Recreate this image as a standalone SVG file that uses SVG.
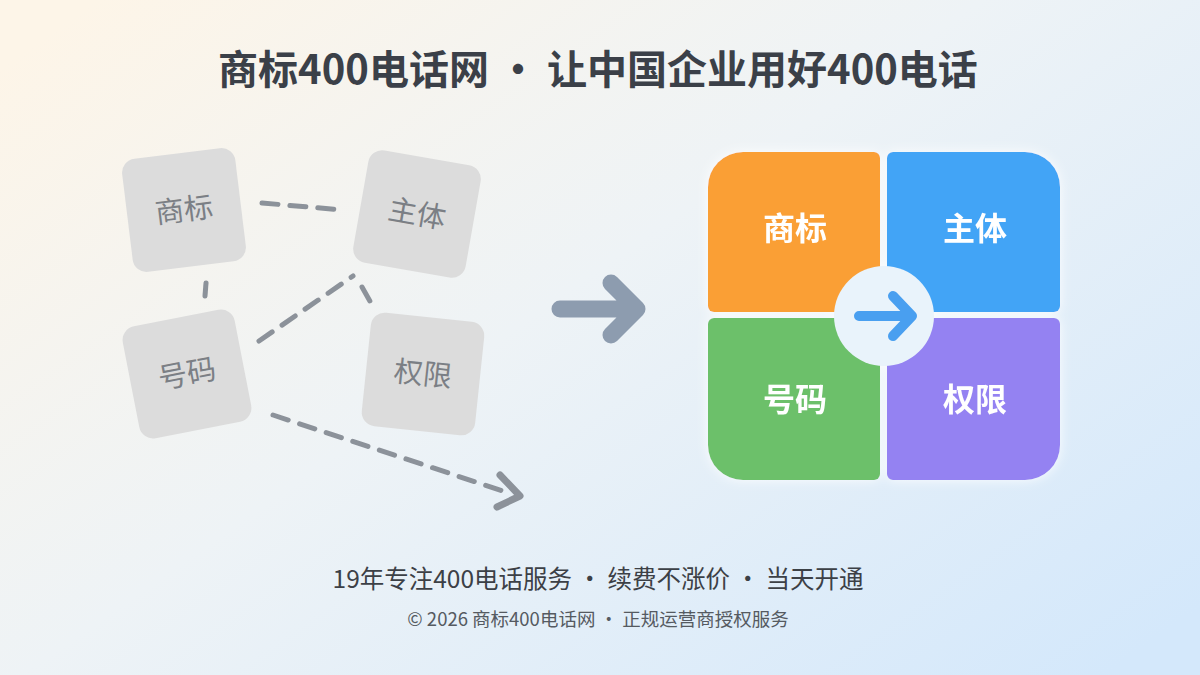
<svg xmlns="http://www.w3.org/2000/svg" width="1200" height="675" viewBox="0 0 1200 675">
<defs>
<linearGradient id="bg" x1="0" y1="0.1" x2="1" y2="0.9">
<stop offset="0" stop-color="#fdf5e8"/>
<stop offset="0.45" stop-color="#eef3f6"/>
<stop offset="1" stop-color="#d4e8fb"/>
</linearGradient>
<filter id="glow" x="-20%" y="-20%" width="140%" height="140%">
<feGaussianBlur in="SourceAlpha" stdDeviation="8"/>
<feFlood flood-color="#ffffff" flood-opacity="0.9"/>
<feComposite operator="in" in2="SourceAlpha"/>
<feGaussianBlur stdDeviation="6"/>
<feMerge><feMergeNode/><feMergeNode in="SourceGraphic"/></feMerge>
</filter>
</defs>
<style>
text{font-family:"Noto Sans CJK SC","Noto Sans",sans-serif;text-anchor:middle}
.title{font-size:40px;font-weight:700;fill:#3b4048}
.tile{fill:#dcdcdc}
.tl{font-size:29px;fill:#7b7f85}
.dash{fill:none;stroke:#8c929a;stroke-width:5;stroke-linecap:round;stroke-dasharray:16 12}
.ql{font-size:32px;font-weight:700;fill:#ffffff}
.sub{font-size:24.5px;fill:#3c4046}
.foot{font-size:18.5px;fill:#555a61}
</style>
<rect width="1200" height="675" fill="url(#bg)"/>
<text class="title" x="598" y="84">商标400电话网 · 让中国企业用好400电话</text>

<g id="connectors">
<path class="dash" d="M262 203 L343 210"/>
<path class="dash" d="M206 283 L205 296"/>
<path class="dash" d="M259 341 L353 276"/>
<path class="dash" d="M362 287 L371 303"/>
<path class="dash" d="M273 415 L512 494"/>
<path d="M500 475 L520 496 L497 507" fill="none" stroke="#8c929a" stroke-width="7" stroke-linecap="round" stroke-linejoin="round"/>
<path d="M560 309 L634 309 M611 283 L637 309 L611 335" fill="none" stroke="#8d9caf" stroke-width="17" stroke-linecap="round" stroke-linejoin="round"/>
</g>

<g id="n-shangbiao-old" transform="translate(184,210) rotate(-7)">
<rect class="tile" x="-57" y="-57" width="114" height="114" rx="14"/>
<text class="tl" x="0" y="10">商标</text>
</g>
<g id="n-zhuti-old" transform="translate(417,214) rotate(10)">
<rect class="tile" x="-57" y="-57" width="114" height="114" rx="14"/>
<text class="tl" x="0" y="10">主体</text>
</g>
<g id="n-haoma-old" transform="translate(187,374) rotate(-11)">
<rect class="tile" x="-57" y="-57" width="114" height="114" rx="14"/>
<text class="tl" x="0" y="10">号码</text>
</g>
<g id="n-quanxian-old" transform="translate(423,374) rotate(6)">
<rect class="tile" x="-57" y="-57" width="114" height="114" rx="14"/>
<text class="tl" x="0" y="10">权限</text>
</g>

<g id="quad" filter="url(#glow)">
<g id="n-shangbiao">
<path d="M743 152 H874 a6 6 0 0 1 6 6 V306 a6 6 0 0 1 -6 6 H714 a6 6 0 0 1 -6 -6 V187 a35 35 0 0 1 35 -35 Z" fill="#fa9f35"/>
<text class="ql" x="795" y="240">商标</text>
</g>
<g id="n-zhuti">
<path d="M893 152 H1025 a35 35 0 0 1 35 35 V306 a6 6 0 0 1 -6 6 H893 a6 6 0 0 1 -6 -6 V158 a6 6 0 0 1 6 -6 Z" fill="#43a4f6"/>
<text class="ql" x="975" y="240">主体</text>
</g>
<g id="n-haoma">
<path d="M714 318 H874 a6 6 0 0 1 6 6 V474 a6 6 0 0 1 -6 6 H743 a35 35 0 0 1 -35 -35 V324 a6 6 0 0 1 6 -6 Z" fill="#6cc06a"/>
<text class="ql" x="795" y="411">号码</text>
</g>
<g id="n-quanxian">
<path d="M893 318 H1054 a6 6 0 0 1 6 6 V445 a35 35 0 0 1 -35 35 H893 a6 6 0 0 1 -6 -6 V324 a6 6 0 0 1 6 -6 Z" fill="#9482f2"/>
<text class="ql" x="975" y="411">权限</text>
</g>
<g id="n-center">
<circle cx="884" cy="316" r="50" fill="#e9f3fb"/>
<path d="M859 316 L908 316 M893 296 L912 316 L893 336" fill="none" stroke="#4a9ff0" stroke-width="10" stroke-linecap="round" stroke-linejoin="round"/>
</g>
</g>

<text class="sub" x="598" y="588">19年专注400电话服务 · 续费不涨价 · 当天开通</text>
<text class="foot" x="598" y="626">© 2026 商标400电话网 · 正规运营商授权服务</text>
</svg>
